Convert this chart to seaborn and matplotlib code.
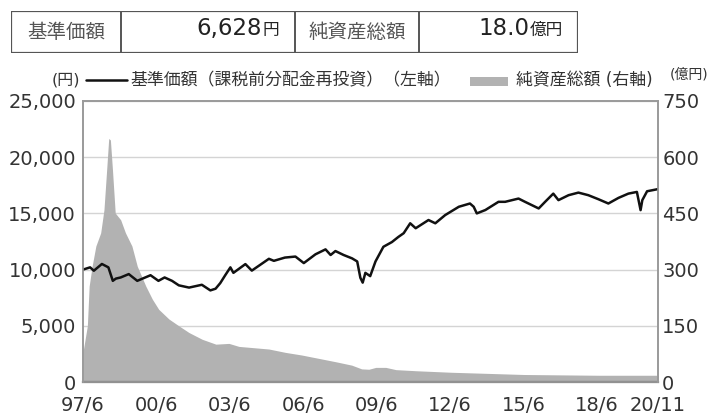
import pandas as pd
import matplotlib.pyplot as plt
import seaborn as sns
from matplotlib.lines import Line2D
from matplotlib.patches import Rectangle

# 基準価額（課税前分配金再投資）, 円
nav_dates = [
    "1997-06-01", "1997-09-15", "1997-11-10", "1998-03-10", "1998-06-15",
    "1998-08-20", "1998-10-05", "1998-12-15", "1999-04-15", "1999-08-20",
    "2000-03-05", "2000-07-01", "2000-10-01", "2001-01-20", "2001-05-01",
    "2001-10-01", "2002-04-10", "2002-08-15", "2002-11-01", "2003-01-10",
    "2003-03-25", "2003-06-10", "2003-07-25", "2004-01-20", "2004-04-25",
    "2005-01-05", "2005-03-20", "2005-09-01", "2006-02-05", "2006-06-10",
    "2006-12-01", "2007-04-30", "2007-07-15", "2007-09-25", "2008-01-25",
    "2008-05-30", "2008-08-15", "2008-10-01", "2008-11-05", "2008-12-15",
    "2009-02-25", "2009-05-15", "2009-09-10", "2010-01-15", "2010-04-20",
    "2010-07-10", "2010-10-15", "2011-01-05", "2011-07-15", "2011-10-25",
    "2012-03-20", "2012-10-10", "2013-03-25", "2013-05-20", "2013-07-05",
    "2013-11-10", "2014-05-25", "2014-09-01", "2015-03-20", "2015-06-25",
    "2016-01-15", "2016-04-20", "2016-08-20", "2016-11-05", "2017-04-05",
    "2017-08-30", "2018-01-25", "2018-06-25", "2018-11-20", "2019-04-20",
    "2019-09-15", "2020-01-20", "2020-03-15", "2020-04-10", "2020-06-20",
    "2020-11-20",
]
nav_values = [
    10000, 10200, 9900, 10500, 10200,
    9000, 9200, 9300, 9600, 9000,
    9500, 9000, 9300, 9000, 8600,
    8400, 8650, 8150, 8300, 8800,
    9500, 10200, 9710, 10490, 9910,
    10960, 10780, 11070, 11160, 10580,
    11360, 11800, 11300, 11650, 11300,
    11000, 10725, 9275, 8840, 9710,
    9420, 10725, 12030, 12450, 12900,
    13240, 14120, 13680, 14410, 14120,
    14850, 15590, 15880, 15590, 15000,
    15300, 16030, 16030, 16320, 16030,
    15440, 16030, 16760, 16180, 16620,
    16850, 16620, 16260, 15880, 16380,
    16760, 16910, 15290, 16180, 16970,
    17150,
]

# 純資産総額, 億円
asset_dates = [
    "1997-06-01", "1997-08-05", "1997-09-01", "1997-10-15", "1997-12-10",
    "1998-02-20", "1998-04-10", "1998-05-20", "1998-06-20", "1998-07-15",
    "1998-08-15", "1998-09-25", "1998-12-15", "1999-02-25", "1999-06-01",
    "1999-08-20", "1999-12-25", "2000-04-01", "2000-07-05", "2000-12-05",
    "2001-05-01", "2001-09-30", "2002-04-15", "2002-11-05", "2003-05-20",
    "2003-10-15", "2004-04-25", "2005-01-05", "2005-09-10", "2006-05-10",
    "2007-01-20", "2007-10-01", "2008-05-25", "2008-10-20", "2009-02-05",
    "2009-05-20", "2009-10-15", "2010-03-15", "2011-01-15", "2012-06-15",
    "2013-06-15", "2015-06-15", "2018-06-15", "2020-11-30",
]
asset_values = [
    80, 150, 256, 309, 363,
    398, 460, 566, 650, 646,
    566, 451, 433, 398, 363,
    309, 256, 221, 194, 168,
    150, 132, 114, 101, 103,
    95, 92, 88, 79, 72,
    63, 54, 45, 35, 34,
    39, 39, 33, 30, 26,
    24, 20, 18, 18,
]

tick_dates = ["1997-06-01", "2000-06-01", "2003-06-01", "2006-06-01", "2009-06-01",
              "2012-06-01", "2015-06-01", "2018-06-01", "2020-11-30"]
tick_labels = ["97/6", "00/6", "03/6", "06/6", "09/6", "12/6", "15/6", "18/6", "20/11"]

table_labels = ["基準価額", "純資産総額"]
table_values = ["6,628", "18.0"]
table_units = ["円", "億円"]

sns.set_theme(style="white")
plt.rcParams["font.family"] = ["DejaVu Sans", "Noto Sans CJK JP"]

nav = pd.DataFrame({"date": pd.to_datetime(nav_dates), "value": nav_values})
assets = pd.DataFrame({"date": pd.to_datetime(asset_dates), "value": asset_values})

W, H = 709, 416
fig = plt.figure(figsize=(W / 100, H / 100), dpi=100)
ax = fig.add_axes([83 / W, (H - 382) / H, 575 / W, 281 / H])
ax2 = ax.twinx()

# 純資産総額 (right axis) behind the line
ax2.set_axisbelow(True)
ax2.yaxis.grid(True, color="#d4d4d4", lw=1)
ax2.fill_between(assets["date"], assets["value"], color="#b2b2b2", lw=0)

sns.lineplot(data=nav, x="date", y="value", ax=ax, color="#111111", lw=1.8)
ax.set_zorder(ax2.get_zorder() + 1)
ax.patch.set_visible(False)

ax.set_xlim(pd.Timestamp("1997-06-01"), pd.Timestamp("2020-11-30"))
ax.set_ylim(0, 25000)
ax2.set_ylim(0, 750)
ax.set_yticks(range(0, 25001, 5000))
ax.set_yticklabels([f"{v:,}" for v in range(0, 25001, 5000)])
ax2.set_yticks(range(0, 751, 150))
ax.set_xticks(pd.to_datetime(tick_dates))
ax.set_xticklabels(tick_labels)
ax.set_xlabel("")
ax.set_ylabel("")
ax.grid(False)

for a in (ax, ax2):
    a.tick_params(length=0, labelsize=14, colors="#333333")
    for s in a.spines.values():
        s.set_color("#9a9a9a")
        s.set_linewidth(1.2)
ax.tick_params(axis="y", pad=5)
ax.tick_params(axis="x", pad=10)
ax2.tick_params(axis="y", pad=3)
ax2.spines["bottom"].set_color("#666666")
ax2.spines["bottom"].set_linewidth(1.6)

# legend row
ly = 1 - 80 / H
fig.text(80 / W, ly, "(円)", ha="right", va="center", fontsize=11.5, color="#333333")
fig.add_artist(Line2D([86 / W, 127 / W], [ly, ly], color="#111111", lw=1.8))
fig.text(130 / W, ly, "基準価額（課税前分配金再投資）（左軸）", ha="left", va="center",
         fontsize=12.2, color="#333333")
fig.add_artist(Rectangle((470 / W, 1 - 86 / H), 38 / W, 9 / H, color="#b2b2b2", lw=0))
fig.text(516 / W, ly, "純資産総額 (右軸)", ha="left", va="center",
         fontsize=12.2, color="#333333")
fig.text(708 / W, 1 - 75 / H, "(億円)", ha="right", va="center", fontsize=10, color="#333333")

# summary table
tab = fig.add_axes([11 / W, (H - 53) / H, 567 / W, 42 / H])
tab.set_xlim(0, 567)
tab.set_ylim(0, 42)
tab.axis("off")
tab.add_patch(Rectangle((0, 0), 567, 42, fill=False, edgecolor="#555555", lw=1.6))
for xv in (110, 284, 408):
    tab.plot([xv, xv], [0, 42], color="#555555", lw=1.4)
label_cx = [55, 346]
value_right = [268, 552]
for lab, val, unit, cx, xr in zip(table_labels, table_values, table_units, label_cx, value_right):
    tab.text(cx, 21, lab, ha="center", va="center", fontsize=14, color="#555555")
    tab.text(xr, 18, unit, ha="right", va="baseline", fontsize=12, color="#222222")
    tab.annotate(val, xy=(xr, 18), xytext=(-12 * len(unit), 0), textcoords="offset points",
                 ha="right", va="baseline", fontsize=16.5, color="#222222")

fig.savefig("out.png", dpi=100)
